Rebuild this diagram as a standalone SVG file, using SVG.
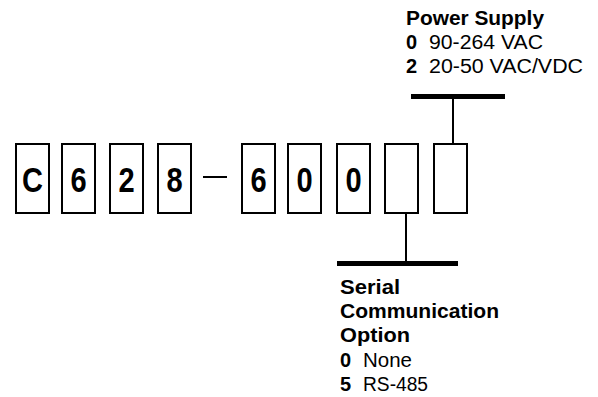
<svg xmlns="http://www.w3.org/2000/svg" width="598" height="397" viewBox="0 0 598 397">
<style>
.box{fill:#fff;stroke:#000;stroke-width:2}
.dig{font-family:"Liberation Sans",Arial,sans-serif;font-weight:bold;font-size:35px;text-anchor:middle;fill:#000}
.lbl{font-family:"Liberation Sans",Arial,sans-serif;font-size:20px;fill:#000}
.b{font-weight:bold}
.bar{fill:#000}
.ln{stroke:#000;stroke-width:2;fill:none}
</style>
<rect width="598" height="397" fill="#fff"/>
<g id="connectors">
<rect class="bar" x="411" y="94" width="94" height="5"/>
<line class="ln" x1="453" y1="99" x2="453" y2="143"/>
<rect class="bar" x="337" y="261" width="121" height="5"/>
<line class="ln" x1="406" y1="214" x2="406" y2="261"/>
<line class="ln" x1="203" y1="177" x2="227" y2="177"/>
</g>
<g id="box-C"><rect class="box" x="16" y="144" width="33" height="69"/><text class="dig" transform="translate(32.5 192) scale(0.83 1)">C</text></g>
<g id="box-6a"><rect class="box" x="62" y="144" width="33" height="69"/><text class="dig" transform="translate(78.5 192) scale(0.83 1)">6</text></g>
<g id="box-2"><rect class="box" x="110" y="144" width="33" height="69"/><text class="dig" transform="translate(126.5 192) scale(0.83 1)">2</text></g>
<g id="box-8"><rect class="box" x="158" y="144" width="33" height="69"/><text class="dig" transform="translate(174.5 192) scale(0.83 1)">8</text></g>
<g id="box-6b"><rect class="box" x="242" y="144" width="33" height="69"/><text class="dig" transform="translate(258.5 192) scale(0.83 1)">6</text></g>
<g id="box-0a"><rect class="box" x="288" y="144" width="33" height="69"/><text class="dig" transform="translate(304.5 192) scale(0.83 1)">0</text></g>
<g id="box-0b"><rect class="box" x="337" y="144" width="33" height="69"/><text class="dig" transform="translate(353.5 192) scale(0.83 1)">0</text></g>
<g id="box-serial"><rect class="box" x="385" y="144" width="33" height="69"/></g>
<g id="box-power"><rect class="box" x="434" y="144" width="33" height="69"/></g>
<g id="power-supply-label">
<text class="lbl b" x="406" y="25" textLength="138" lengthAdjust="spacingAndGlyphs">Power Supply</text>
<text class="lbl b" x="406" y="49">0</text>
<text class="lbl" x="429" y="49" textLength="114" lengthAdjust="spacingAndGlyphs">90-264 VAC</text>
<text class="lbl b" x="406" y="73">2</text>
<text class="lbl" x="429" y="73" textLength="154" lengthAdjust="spacingAndGlyphs">20-50 VAC/VDC</text>
</g>
<g id="serial-label">
<text class="lbl b" x="340" y="294" textLength="60" lengthAdjust="spacingAndGlyphs">Serial</text>
<text class="lbl b" x="340" y="318" textLength="159" lengthAdjust="spacingAndGlyphs">Communication</text>
<text class="lbl b" x="340" y="342" textLength="70" lengthAdjust="spacingAndGlyphs">Option</text>
<text class="lbl b" x="340" y="367">0</text>
<text class="lbl" x="363" y="367" textLength="49" lengthAdjust="spacingAndGlyphs">None</text>
<text class="lbl b" x="340" y="391">5</text>
<text class="lbl" x="363" y="391" textLength="65" lengthAdjust="spacingAndGlyphs">RS-485</text>
</g>
</svg>
